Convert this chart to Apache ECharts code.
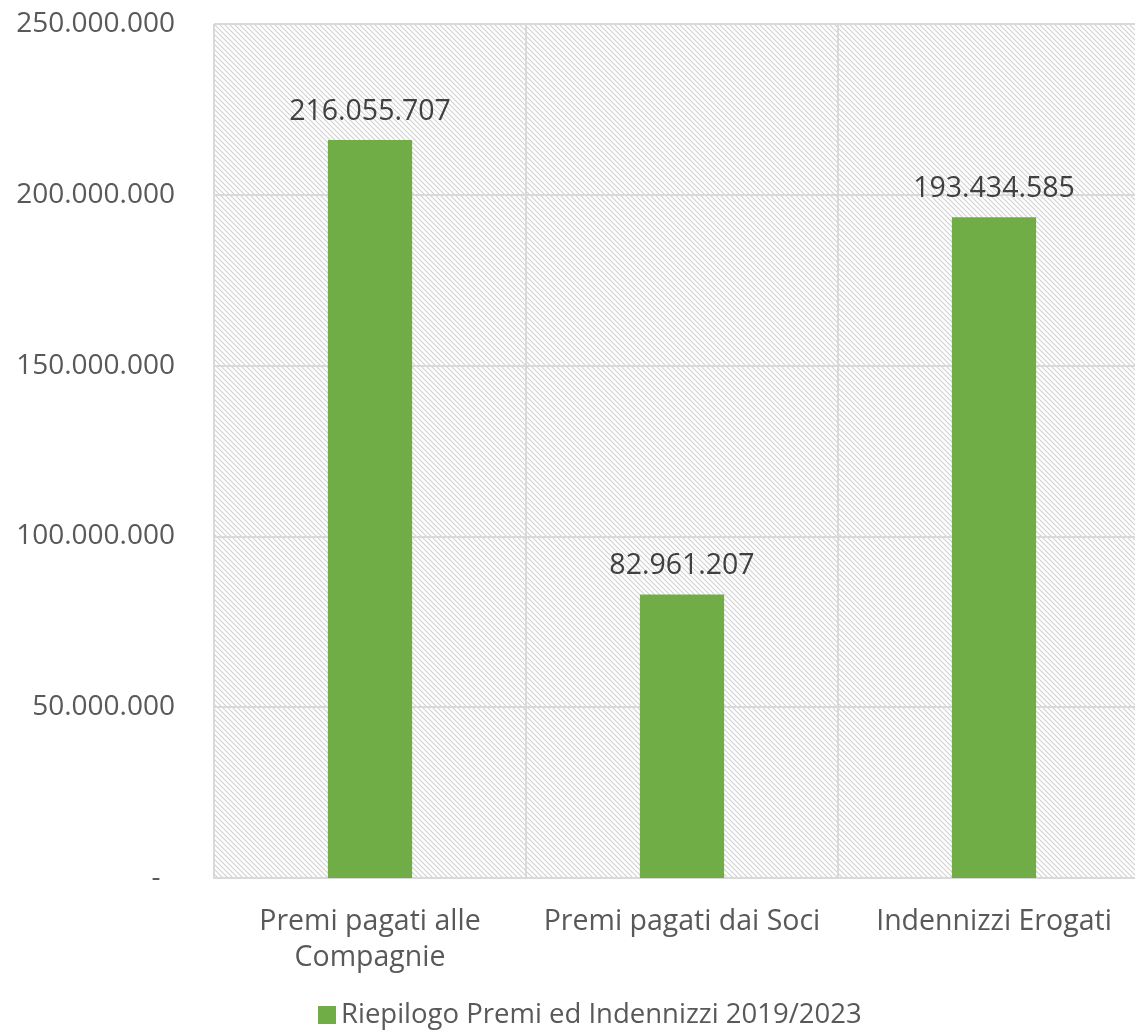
<!DOCTYPE html>
<html><head><meta charset="utf-8">
<script src="https://cdn.jsdelivr.net/npm/echarts@6/dist/echarts.min.js"></script>
<style>html,body{margin:0;padding:0;background:#fff}#c{width:1135px;height:1036px}</style>
</head><body><div id="c"></div>
<script>
const categories = ["Premi pagati alle\nCompagnie", "Premi pagati dai Soci", "Indennizzi Erogati"];
const values = [216055707, 82961207, 193434585];
const seriesName = "Riepilogo Premi ed Indennizzi 2019/2023";

function fmt(v){ if(v===0) return "-  "; return String(Math.round(v)).replace(/\B(?=(\d{3})+(?!\d))/g, "."); }

const pc = document.createElement('canvas');
pc.width = 5; pc.height = 5;
const ctx = pc.getContext('2d');
ctx.fillStyle = '#ffffff'; ctx.fillRect(0,0,5,5);
ctx.strokeStyle = '#d0d0d0'; ctx.lineWidth = 1.1;
ctx.beginPath();
ctx.moveTo(-1,-1); ctx.lineTo(6,6);
ctx.moveTo(-6,-1); ctx.lineTo(1,6);
ctx.moveTo(4,-1); ctx.lineTo(11,6);
ctx.stroke();

const chart = echarts.init(document.getElementById('c'));
chart.setOption({
  animation:false,
  textStyle:{fontFamily:'Open Sans'},
  grid:{left:214, width:936, top:24, bottom:158, show:true, borderWidth:0, outerBoundsMode:'none', containLabel:false,
        backgroundColor:{image:pc, repeat:'repeat'}},
  legend:{bottom:2, left:313, itemWidth:18, itemHeight:18, icon:'rect', itemGap:10,
          textStyle:{fontSize:27.5, color:'#595959', fontFamily:'Open Sans'}},
  xAxis:{type:'category', data:categories,
    axisLine:{lineStyle:{color:'#d9d9d9', width:2}},
    axisTick:{show:false},
    splitLine:{show:true, lineStyle:{color:'#d9d9d9', width:2}},
    axisLabel:{fontSize:28.5, color:'#595959', margin:26, lineHeight:36, interval:0, fontFamily:'Open Sans'}},
  yAxis:{type:'value', min:0, max:250000000, interval:50000000,
    axisLine:{show:false}, axisTick:{show:false},
    splitLine:{lineStyle:{color:'#d9d9d9', width:2}},
    axisLabel:{fontSize:28, color:'#595959', margin:39, formatter:fmt, fontFamily:'Open Sans'}},
  series:[{name:seriesName, type:'bar', data:values, barWidth:'27%',
    itemStyle:{color:'#70AD47'},
    label:{show:true, position:'top', distance:14, fontSize:28.5, color:'#404040', formatter:p=>fmt(p.value), fontFamily:'Open Sans'}}]
});
</script></body></html>
